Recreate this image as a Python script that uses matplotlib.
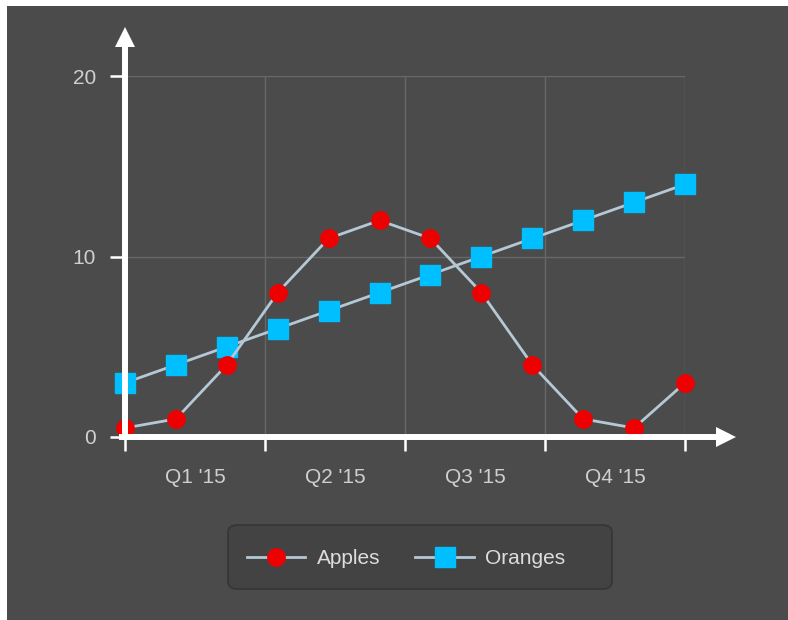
import matplotlib
matplotlib.use("Agg")
import matplotlib.pyplot as plt
from matplotlib.patches import Rectangle, FancyBboxPatch

# monthly values, 2015
months = list(range(12))
apples = [0.5, 1, 4, 8, 11, 12, 11, 8, 4, 1, 0.5, 3]
oranges = [3, 4, 5, 6, 7, 8, 9, 10, 11, 12, 13, 14]
quarter_labels = ["Q1 '15", "Q2 '15", "Q3 '15", "Q4 '15"]
quarter_edges = [0, 2.75, 5.5, 8.25, 11]
y_ticks = [0, 10, 20]

bg = "#4b4b4b"
txt = "#d0d0d0"
line_col = "#b4c8d6"

plt.rcParams["font.family"] = ["Liberation Sans", "DejaVu Sans"]

W, H = 788, 620
fig = plt.figure(figsize=(W / 100, H / 100), dpi=100)
fig.patch.set_facecolor("white")
fig.patches.append(Rectangle((7 / W, 0), 1, 614 / H, transform=fig.transFigure,
                             facecolor=bg, edgecolor="none", zorder=-10))

# legend box (drawn by hand, it is wider than its content)
fig.patches.append(FancyBboxPatch((228 / W, (H - 589) / H), 384 / W, 64 / H,
                                  boxstyle="round,pad=0,rounding_size=0.012",
                                  transform=fig.transFigure, facecolor="#434343",
                                  edgecolor="#353535", lw=1.2, zorder=-5))

ax = fig.add_axes([125 / W, 183 / H, 560 / W, 361 / H])
ax.patch.set_alpha(0)

ax.plot(months, apples, color=line_col, lw=2, marker="o", ms=12.5,
        mfc="#ee0000", mec="#ee0000", label="Apples", clip_on=False, zorder=4)
ax.plot(months, oranges, color=line_col, lw=2, marker="s", ms=14.5,
        mfc="#00bfff", mec="#00bfff", label="Oranges", clip_on=False, zorder=3)

ax.set_xlim(0, 11)
ax.set_ylim(0, 20)

for s in ["top", "right", "left", "bottom"]:
    ax.spines[s].set_visible(False)

# grid
for x in quarter_edges[1:]:
    ax.axvline(x, color="#686868", lw=1, zorder=1)
for y in y_ticks[1:]:
    ax.axhline(y, color="#686868", lw=1, zorder=1)

# axis lines with arrow heads
ax.plot([0, 0], [-0.008, 1.09], transform=ax.transAxes, color="white", lw=4.3,
        solid_capstyle="butt", clip_on=False, zorder=5)
ax.plot([0], [1.109], transform=ax.transAxes, marker="^", ms=15, color="white",
        mew=0, clip_on=False, zorder=5)
ax.plot([-0.01, 1.064], [0, 0], transform=ax.transAxes, color="white", lw=4.3,
        solid_capstyle="butt", clip_on=False, zorder=5)
ax.plot([1.074], [0], transform=ax.transAxes, marker=">", ms=15, color="white",
        mew=0, clip_on=False, zorder=5)

ax.set_yticks(y_ticks)
ax.tick_params(axis="y", length=11, width=1.8, color="white", labelcolor=txt,
               labelsize=15, pad=10)
ax.set_xticks(quarter_edges)
ax.set_xticklabels([])
ax.tick_params(axis="x", which="major", length=10, width=1.8, color="white")
ax.set_xticks([(a + b) / 2 for a, b in zip(quarter_edges[:-1], quarter_edges[1:])], minor=True)
ax.set_xticklabels(quarter_labels, minor=True)
ax.tick_params(axis="x", which="minor", length=0, labelcolor=txt, labelsize=15, pad=22)

fig.legend(loc="center", bbox_to_anchor=(406 / W, (H - 559) / H), ncol=2,
           frameon=False, fontsize=15, handlelength=2.8, handletextpad=0.55,
           columnspacing=1.7, labelcolor="#dddddd")

plt.savefig("out.png", dpi=100, facecolor=fig.get_facecolor())
